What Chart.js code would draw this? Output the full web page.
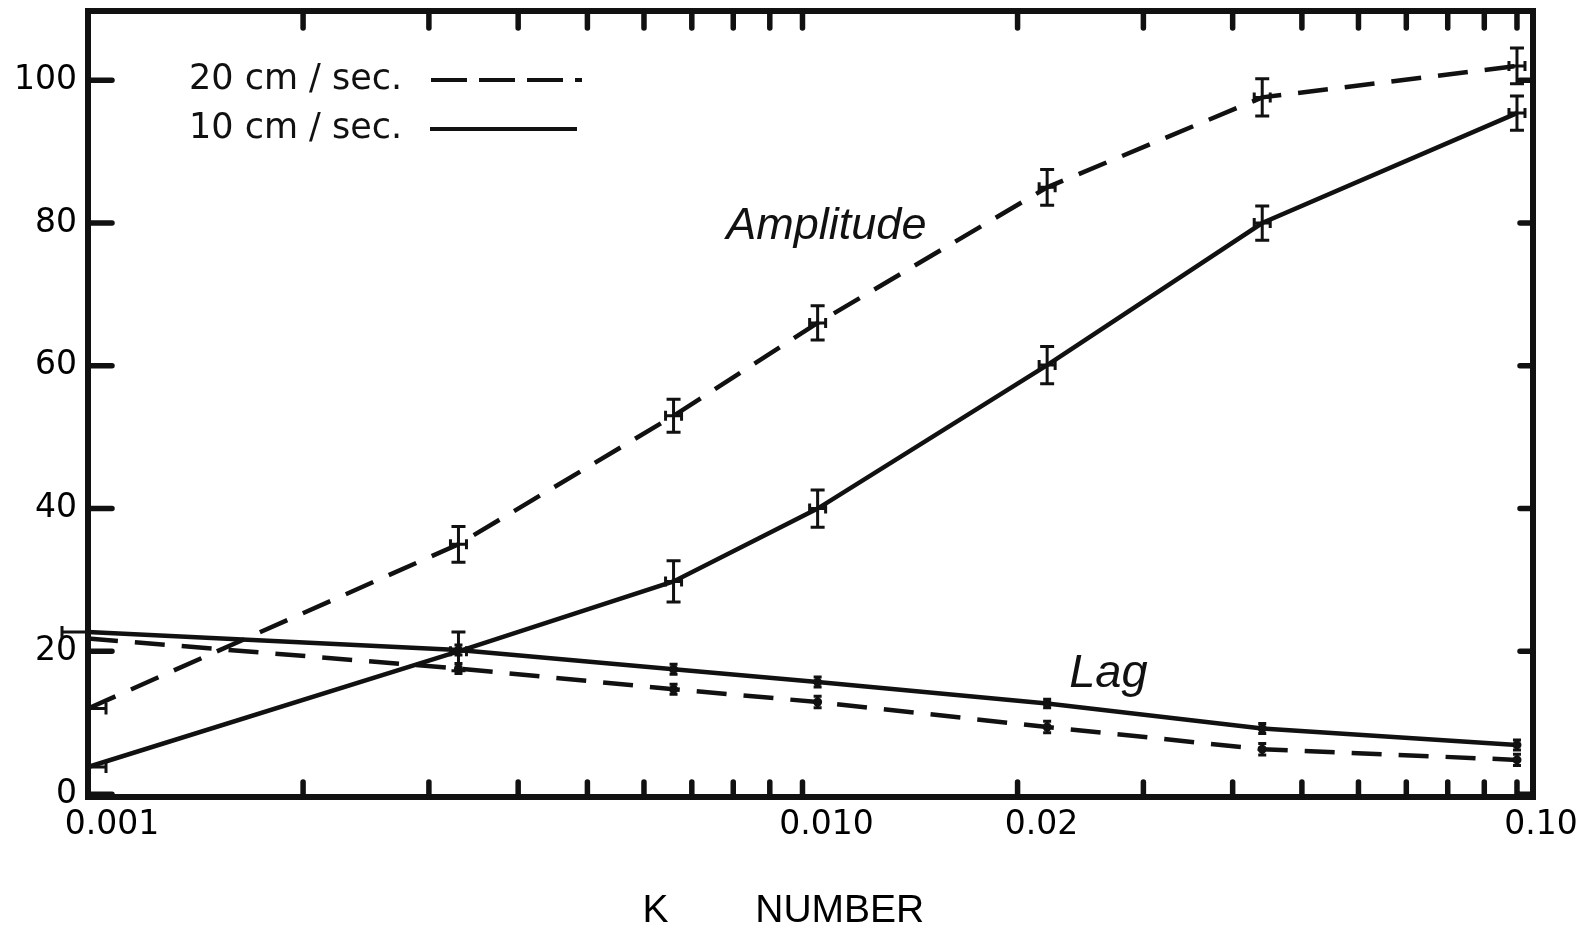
<!DOCTYPE html>
<html>
<head>
<meta charset="utf-8">
<script src="https://cdn.jsdelivr.net/npm/chart.js@4.4.0/dist/chart.umd.min.js"></script>
<style>
html, body { margin: 0; padding: 0; background: #ffffff; }
#wrap { width: 1587px; height: 929px; position: relative; }
</style>
</head>
<body>
<div id="wrap"><canvas id="c" width="1587" height="929"></canvas></div>
<script>
// ---- data ----
const kNumber = [0.001, 0.0033, 0.0066, 0.0105, 0.022, 0.044, 0.1];
const amp20 = [12.0, 35.0, 53.0, 66.0, 85.0, 97.6, 102.0];
const amp10 = [3.8, 20.0, 29.8, 40.0, 60.1, 80.0, 95.4];
const lag20 = [21.8, 17.6, 14.7, 12.9, 9.4, 6.3, 4.8];
const lag10 = [22.7, 20.2, 17.5, 15.7, 12.7, 9.2, 6.9];
const amp20Err = [0.5, 2.5, 2.3, 2.4, 2.5, 2.6, 2.5];
const amp10Err = [0.5, 2.7, 2.9, 2.6, 2.6, 2.4, 2.4];
const lag20Err = [0, 0.7, 0.7, 0.8, 0.8, 0.8, 0.8];
const lag10Err = [0, 0.7, 0.7, 0.7, 0.6, 0.7, 0.7];

const xTickValues = [0.001, 0.01, 0.02, 0.1];
const xTickLabels = ['0.001', '0.010', '0.02', '0.10'];
const xMarkTicks = [0.002, 0.003, 0.004, 0.005, 0.006, 0.007, 0.008, 0.009, 0.01,
                    0.02, 0.03, 0.04, 0.05, 0.06, 0.07, 0.08, 0.09, 0.1];
const yTickValues = [0, 20, 40, 60, 80, 100];
const legendLabels = ['20 cm / sec.', '10 cm / sec.'];
const axisTitle = 'K        NUMBER     ';
const amplitudeLabel = 'Amplitude';
const amplitudeLabelAt = [0.0108, 79.5];
const lagLabel = 'Lag';
const lagLabelAt = [0.0268, 16.8];

const INK = '#111111';
const DASH = [30, 17];

function pts(ys) { return kNumber.map((k, i) => ({ x: k, y: ys[i] })); }

const series = [
  { label: legendLabels[0] + ' amplitude', values: amp20, err: amp20Err, dash: DASH, kind: 'amp' },
  { label: legendLabels[1] + ' amplitude', values: amp10, err: amp10Err, dash: [], kind: 'amp' },
  { label: legendLabels[0] + ' lag', values: lag20, err: lag20Err, dash: DASH, kind: 'lag' },
  { label: legendLabels[1] + ' lag', values: lag10, err: lag10Err, dash: [], kind: 'lag' }
];

const decorPlugin = {
  id: 'decor',
  afterDatasetsDraw(chart) {
    const ctx = chart.ctx;
    const xs = chart.scales.x, ys = chart.scales.y;
    ctx.save();
    ctx.strokeStyle = INK;
    ctx.fillStyle = INK;
    ctx.setLineDash([]);
    series.forEach((s) => {
      s.values.forEach((v, i) => {
        const px = xs.getPixelForValue(kNumber[i]);
        const py = ys.getPixelForValue(v);
        const e = s.err[i];
        if (s.kind === 'amp') {
          ctx.lineWidth = 3;
          if (i === 0) {
            ctx.beginPath();
            ctx.moveTo(px, py); ctx.lineTo(px + 18, py);
            ctx.moveTo(px + 18, py - 6); ctx.lineTo(px + 18, py + 6);
            ctx.stroke();
            return;
          }
          const t = ys.getPixelForValue(v + e), b = ys.getPixelForValue(v - e);
          ctx.beginPath();
          ctx.moveTo(px, t); ctx.lineTo(px, b);
          ctx.moveTo(px - 7, t); ctx.lineTo(px + 7, t);
          ctx.moveTo(px - 7, b); ctx.lineTo(px + 7, b);
          ctx.moveTo(px - 8, py); ctx.lineTo(px + 8, py);
          ctx.moveTo(px - 8, py - 5); ctx.lineTo(px - 8, py + 5);
          ctx.moveTo(px + 8, py - 5); ctx.lineTo(px + 8, py + 5);
          ctx.stroke();
        } else {
          if (i === 0) {
            if (s.dash.length === 0) {
              ctx.lineWidth = 3;
              ctx.beginPath();
              ctx.moveTo(px, py); ctx.lineTo(px - 26, py);
              ctx.moveTo(px - 26, py - 6); ctx.lineTo(px - 26, py + 6);
              ctx.stroke();
            }
            return;
          }
          const t = ys.getPixelForValue(v + e), b = ys.getPixelForValue(v - e);
          ctx.lineWidth = 3;
          ctx.beginPath();
          ctx.moveTo(px, t); ctx.lineTo(px, b);
          ctx.moveTo(px - 4, t); ctx.lineTo(px + 4, t);
          ctx.moveTo(px - 4, b); ctx.lineTo(px + 4, b);
          ctx.stroke();
          ctx.beginPath();
          ctx.arc(px, py, 4.5, 0, Math.PI * 2);
          ctx.fill();
        }
      });
    });
    ctx.restore();
  },
  afterDraw(chart) {
    const ctx = chart.ctx;
    const a = chart.chartArea;
    const xs = chart.scales.x, ys = chart.scales.y;
    ctx.save();
    ctx.strokeStyle = INK;
    ctx.fillStyle = INK;
    ctx.setLineDash([]);
    // frame
    ctx.lineWidth = 6;
    ctx.strokeRect(a.left, a.top, a.right - a.left, a.bottom - a.top);
    // inward tick marks
    ctx.lineWidth = 5.5;
    ctx.lineCap = 'round';
    ctx.beginPath();
    xMarkTicks.forEach((k) => {
      const px = xs.getPixelForValue(k);
      ctx.moveTo(px, a.bottom); ctx.lineTo(px, a.bottom - 15);
      ctx.moveTo(px, a.top); ctx.lineTo(px, a.top + 17);
    });
    yTickValues.forEach((v) => {
      const py = ys.getPixelForValue(v);
      ctx.moveTo(a.left, py); ctx.lineTo(a.left + 24, py);
      ctx.moveTo(a.right, py); ctx.lineTo(a.right - 13, py);
    });
    ctx.stroke();
    ctx.lineCap = 'butt';
    // legend
    ctx.font = '35px "DejaVu Sans"';
    ctx.textBaseline = 'middle';
    ctx.textAlign = 'left';
    const lx = a.left + 101;
    const rows = [a.top + 69, a.top + 118];
    ctx.fillText(legendLabels[0], lx, rows[0]);
    ctx.fillText(legendLabels[1], lx, rows[1]);
    ctx.lineWidth = 4;
    ctx.setLineDash([36, 12]);
    ctx.beginPath(); ctx.moveTo(a.left + 343, rows[0]); ctx.lineTo(a.left + 494, rows[0]); ctx.stroke();
    ctx.setLineDash([]);
    ctx.beginPath(); ctx.moveTo(a.left + 342, rows[1]); ctx.lineTo(a.left + 489, rows[1]); ctx.stroke();
    // annotations
    ctx.font = 'italic 45px "Liberation Sans"';
    ctx.textAlign = 'center';
    ctx.fillText(amplitudeLabel, xs.getPixelForValue(amplitudeLabelAt[0]), ys.getPixelForValue(amplitudeLabelAt[1]));
    ctx.font = 'italic 47px "Liberation Sans"';
    ctx.fillText(lagLabel, xs.getPixelForValue(lagLabelAt[0]), ys.getPixelForValue(lagLabelAt[1]));
    ctx.restore();
  }
};

new Chart(document.getElementById('c'), {
  type: 'line',
  data: {
    datasets: series.map((s) => ({
      label: s.label,
      data: pts(s.values),
      borderColor: INK,
      backgroundColor: INK,
      borderWidth: 4.5,
      borderDash: s.dash,
      pointRadius: 0,
      pointHoverRadius: 0,
      tension: 0,
      fill: false,
      clip: false
    }))
  },
  options: {
    responsive: false,
    animation: false,
    events: [],
    layout: { padding: { top: 11, right: 54, left: 0, bottom: 0 } },
    plugins: { legend: { display: false }, tooltip: { enabled: false } },
    scales: {
      x: {
        type: 'logarithmic',
        min: 0.001,
        max: 0.1053,
        afterBuildTicks: (scale) => { scale.ticks = xTickValues.map((v) => ({ value: v })); },
        afterFit: (scale) => { scale.height = 132; scale.paddingLeft = 0; scale.paddingRight = 0; },
        grid: { display: false, drawTicks: false },
        border: { display: false },
        ticks: {
          autoSkip: false,
          maxRotation: 0,
          padding: 9,
          labelOffset: 24,
          color: '#000',
          font: { family: 'DejaVu Sans', size: 33 },
          callback: (value, index) => xTickLabels[index]
        },
        title: {
          display: true,
          text: axisTitle,
          color: '#000',
          font: { family: 'Liberation Sans', size: 39, lineHeight: 0.9 },
          padding: { top: 0, bottom: 0 }
        }
      },
      y: {
        type: 'linear',
        min: -0.4,
        max: 109.7,
        afterBuildTicks: (scale) => { scale.ticks = yTickValues.map((v) => ({ value: v })); },
        afterFit: (scale) => { scale.width = 88; scale.paddingTop = 0; scale.paddingBottom = 0; },
        grid: { display: false, drawTicks: false },
        border: { display: false },
        ticks: {
          padding: 11,
          color: '#000',
          font: { family: 'DejaVu Sans', size: 33 },
          callback: (v) => String(v)
        }
      }
    }
  },
  plugins: [decorPlugin]
});
</script>
</body>
</html>
